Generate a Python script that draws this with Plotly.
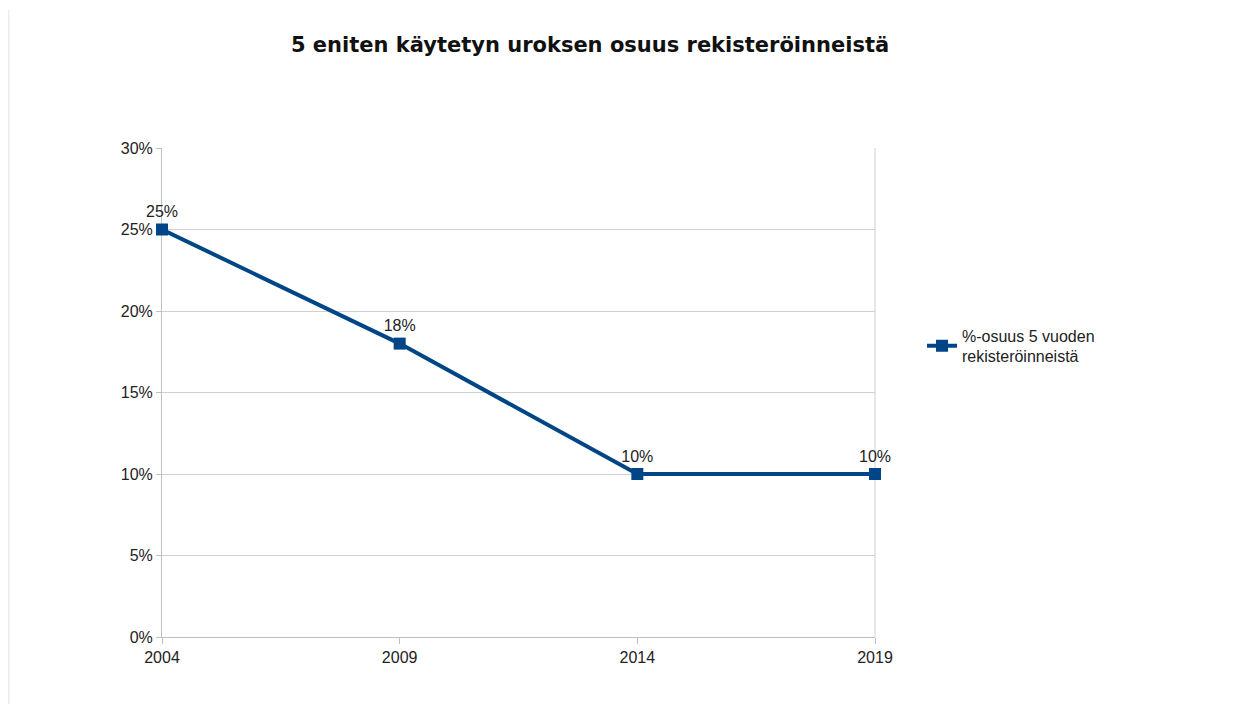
import plotly.graph_objects as go

years = [2004, 2009, 2014, 2019]
share = [0.25, 0.18, 0.10, 0.10]
labels = ["25%", "18%", "10%", "10%"]
y_ticks = [0, 0.05, 0.10, 0.15, 0.20, 0.25, 0.30]
y_tick_text = ["0%", "5%", "10%", "15%", "20%", "25%", "30%"]
series_name = "%-osuus 5 vuoden<br>rekisteröinneistä"
title = "5 eniten käytetyn uroksen osuus rekisteröinneistä"

OFF = 8  # default page body margin
W, H = 1251, 704
L, T = 162 - OFF, 148 - OFF
pw, ph = 875 - 162, 637 - 148
R, B = W - L - pw, H - T - ph

FONT = "Liberation Sans, Arial"

fig = go.Figure()
fig.add_trace(go.Scatter(
    x=years, y=share, mode="lines+markers+text", name=series_name,
    text=labels, textposition="top center",
    textfont=dict(family=FONT, size=16, color="#222222"),
    line=dict(color="#004586", width=4),
    marker=dict(symbol="square", size=12, color="#004586"),
    cliponaxis=False,
))

fig.update_layout(
    width=W, height=H,
    margin=dict(l=L, r=R, t=T, b=B),
    paper_bgcolor="white", plot_bgcolor="white",
    title=dict(text="<b>" + title + "</b>", x=(590 - OFF) / W, xanchor="center",
               y=1 - (45 - OFF) / H, yanchor="middle",
               font=dict(family="DejaVu Sans", size=21, color="#111111")),
    font=dict(family=FONT, size=16, color="#222222"),
    showlegend=True,
    legend=dict(x=(914 - L) / pw, xanchor="left", y=(629 - 338) / ph, yanchor="middle",
                font=dict(family=FONT, size=16, color="#222222"),
                bgcolor="rgba(0,0,0,0)", itemwidth=30, tracegroupgap=0),
    xaxis=dict(range=[2004, 2019], tickvals=years, ticktext=[str(y) for y in years],
               showgrid=False, showline=True, linecolor="#c0c0c0", linewidth=1,
               ticks="outside", ticklen=6, tickcolor="#c0c0c0",
               zeroline=False, layer="below traces",
               tickfont=dict(family=FONT, size=16, color="#222222")),
    yaxis=dict(range=[0, 0.30], tickvals=y_ticks, ticktext=y_tick_text,
               showgrid=True, gridcolor="#cfcfcf", gridwidth=1,
               showline=True, linecolor="#c0c0c0", linewidth=1,
               ticks="outside", ticklen=5, tickcolor="#c0c0c0",
               zeroline=False, layer="below traces",
               tickfont=dict(family=FONT, size=16, color="#222222")),
    shapes=[
        dict(type="line", xref="paper", yref="paper", layer="below",
             x0=1, x1=1, y0=0, y1=1, line=dict(color="#cfcfcf", width=1)),
        dict(type="line", xref="paper", yref="paper", layer="below",
             x0=(0.5 - L) / pw, x1=(0.5 - L) / pw,
             y0=(T + ph - H) / ph, y1=(T + ph - 2) / ph,
             line=dict(color="#ececec", width=2)),
    ],
)

fig.write_html("out.html")
